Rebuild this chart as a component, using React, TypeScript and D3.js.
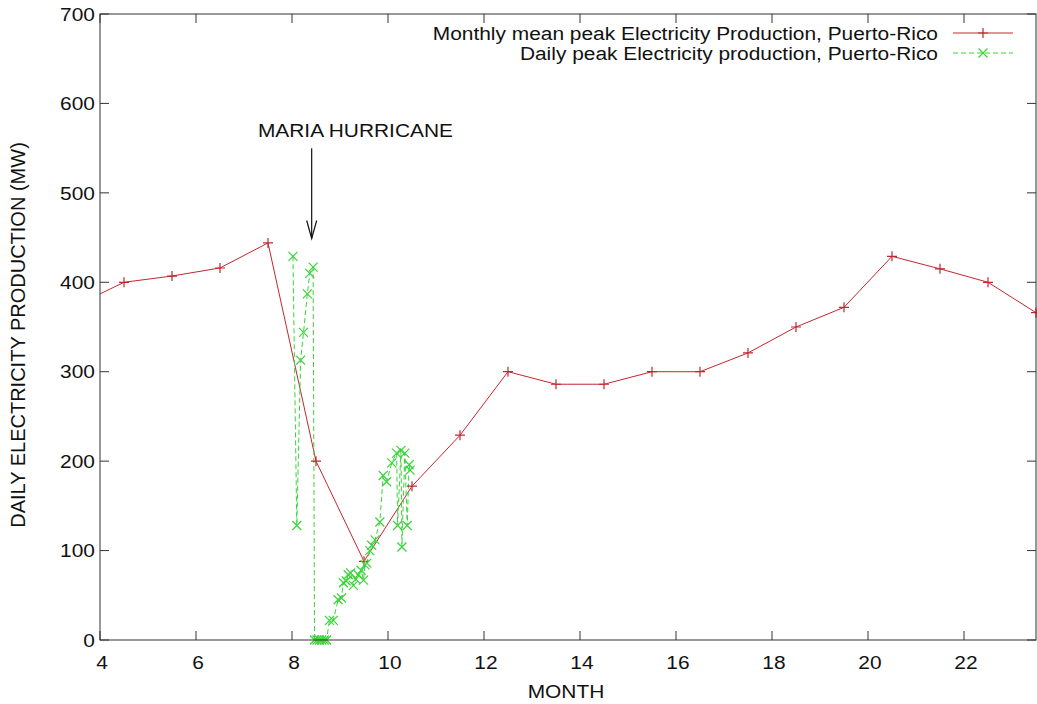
import React from 'react';
import * as d3 from 'd3';

// Monthly mean peak (red)
const months = [3.5, 4.5, 5.5, 6.5, 7.5, 8.5, 9.5, 10.5, 11.5, 12.5, 13.5, 14.5, 15.5, 16.5, 17.5, 18.5, 19.5, 20.5, 21.5, 22.5, 23.5];
const monthlyPeak = [374, 400, 407, 416, 444, 200, 88, 172, 229, 300, 286, 286, 300, 300, 321, 350, 372, 429, 415, 400, 366];

// Daily peak (green)
const dailyMonth = [8.02, 8.1, 8.18, 8.24, 8.32, 8.37, 8.44, 8.47, 8.52, 8.57, 8.62, 8.67, 8.72, 8.78, 8.86, 8.96, 9.03, 9.07, 9.13, 9.17, 9.22, 9.28, 9.33, 9.38, 9.44, 9.49, 9.52, 9.56, 9.62, 9.66, 9.73, 9.83, 9.9, 9.97, 10.08, 10.18, 10.2, 10.27, 10.29, 10.35, 10.4, 10.44, 10.46];
const dailyPeak = [429, 128, 313, 344, 387, 410, 417, 0, 0, 0, 0, 0, 0, 22, 22, 45, 47, 64, 66, 73, 75, 61, 68, 73, 78, 67, 84, 86, 100, 106, 112, 132, 184, 177, 198, 209, 128, 212, 104, 209, 128, 196, 190];

const xTicks = [4, 6, 8, 10, 12, 14, 16, 18, 20, 22];
const yTicks = [0, 100, 200, 300, 400, 500, 600, 700];
const seriesNames = [
  'Monthly mean peak Electricity Production, Puerto-Rico',
  'Daily peak Electricity production, Puerto-Rico',
];
const xTitle = 'MONTH';
const yTitle = 'DAILY ELECTRICITY PRODUCTION (MW)';
const annotation = { label: 'MARIA HURRICANE', month: 8.41, top: 550, tip: 449, labelMonth: 7.29, labelValue: 570 };

const RED = '#c3262e';
const GREEN = '#3ad43a';
const AXIS = '#333';
const FONT = '"Liberation Sans", Arial, Helvetica, sans-serif';

function T({ x, y, anchor = 'middle', size = 19, children }: any) {
  return (
    <text
      transform={`translate(${x},${y}) scale(1.1,1)`}
      textAnchor={anchor}
      dominantBaseline="central"
      fontSize={size}
      fontFamily={FONT}
      fill="#111"
    >
      {children}
    </text>
  );
}

function Plus({ cx, cy, color }: any) {
  const r = 5;
  return <path d={`M${cx - r},${cy}H${cx + r}M${cx},${cy - r}V${cy + r}`} stroke={color} strokeWidth={1.2} fill="none" />;
}
function Cross({ cx, cy, color }: any) {
  const r = 4.5;
  return <path d={`M${cx - r},${cy - r}L${cx + r},${cy + r}M${cx - r},${cy + r}L${cx + r},${cy - r}`} stroke={color} strokeWidth={1.2} fill="none" />;
}

export default function App() {
  const W = 1037, H = 704;
  const x = d3.scaleLinear().domain([4, 23.5]).range([100, 1036]);
  const y = d3.scaleLinear().domain([0, 700]).range([640, 14]);
  const [x0, x1] = x.range();
  const [y0, y1] = y.range();

  const monthly: [number, number][] = months.map((m, i) => [m, monthlyPeak[i]]);
  const daily: [number, number][] = dailyMonth.map((m, i) => [m, dailyPeak[i]]);
  const line = d3.line<[number, number]>().x(d => x(d[0])).y(d => y(d[1]));
  const inDomain = (m: number) => m >= 4 && m <= 23.5;

  const tickLen = 9;
  const ax = x(annotation.month);

  return (
    <svg width={W} height={H} style={{ position: 'absolute', left: 0, top: 0, background: '#fff' }}>
      <defs>
        <clipPath id="plot">
          <rect x={x0} y={y1} width={x1 - x0} height={y0 - y1} />
        </clipPath>
      </defs>
      <rect width={W} height={H} fill="#fff" />

      {/* ticks */}
      {xTicks.map(t => (
        <g key={'xt' + t}>
          <line x1={x(t)} x2={x(t)} y1={y0} y2={y0 - tickLen} stroke={AXIS} />
          <line x1={x(t)} x2={x(t)} y1={y1} y2={y1 + tickLen} stroke={AXIS} />
          <T x={x(t) + 2} y={y0 + 22}>{t}</T>
        </g>
      ))}
      {yTicks.map(t => (
        <g key={'yt' + t}>
          <line x1={x0} x2={x0 + tickLen} y1={y(t)} y2={y(t)} stroke={AXIS} />
          <line x1={x1} x2={x1 - tickLen} y1={y(t)} y2={y(t)} stroke={AXIS} />
          <T x={x0 - 5} y={y(t)} anchor="end">{t}</T>
        </g>
      ))}

      {/* data */}
      <g clipPath="url(#plot)">
        <path d={line(monthly) || ''} fill="none" stroke={RED} strokeWidth={1} />
        <path d={line(daily) || ''} fill="none" stroke={GREEN} strokeWidth={1} strokeDasharray="5,3" />
      </g>
      {monthly.filter(d => inDomain(d[0])).map((d, i) => (
        <Plus key={'p' + i} cx={x(d[0])} cy={y(d[1])} color={RED} />
      ))}
      {daily.map((d, i) => (
        <Cross key={'c' + i} cx={x(d[0])} cy={y(d[1])} color={GREEN} />
      ))}

      {/* border */}
      <rect x={x0} y={y1} width={x1 - x0} height={y0 - y1} fill="none" stroke={AXIS} strokeWidth={1} />

      {/* annotation */}
      <T x={x(annotation.labelMonth)} y={y(annotation.labelValue)} anchor="start">{annotation.label}</T>
      <line x1={ax} x2={ax} y1={y(annotation.top)} y2={y(annotation.tip)} stroke="#111" strokeWidth={1.2} />
      <path d={`M${ax - 5},${y(annotation.tip) - 18}L${ax},${y(annotation.tip)}L${ax + 5},${y(annotation.tip) - 18}`} fill="none" stroke="#111" strokeWidth={1.2} />

      {/* legend */}
      <T x={938} y={33} anchor="end">{seriesNames[0]}</T>
      <line x1={953} x2={1013} y1={33} y2={33} stroke={RED} />
      <Plus cx={983} cy={33} color={RED} />
      <T x={938} y={53} anchor="end">{seriesNames[1]}</T>
      <line x1={953} x2={1013} y1={53} y2={53} stroke={GREEN} strokeDasharray="5,3" />
      <Cross cx={983} cy={53} color={GREEN} />

      {/* titles */}
      <T x={(x0 + x1) / 2 - 2} y={691}>{xTitle}</T>
      <text
        transform={`translate(18,${(y0 + y1) / 2 + 8}) rotate(-90)`}
        textAnchor="middle"
        dominantBaseline="central"
        fontSize={20}
        fontFamily={FONT}
        fill="#111"
      >
        {yTitle}
      </text>
    </svg>
  );
}
